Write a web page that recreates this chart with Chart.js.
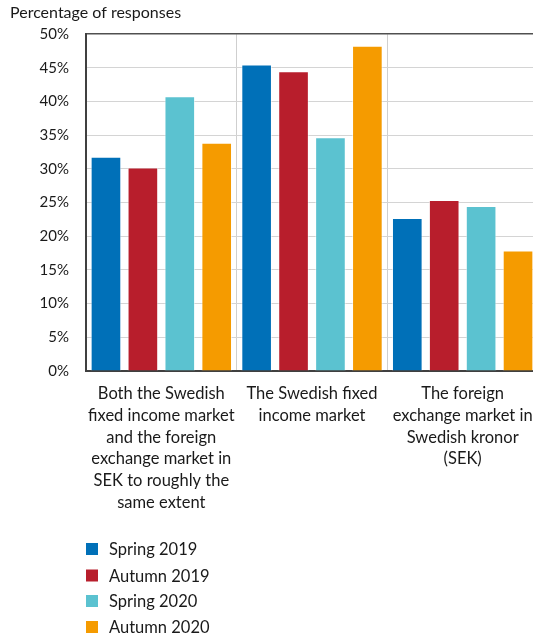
<!DOCTYPE html>
<html>
<head>
<meta charset="utf-8">
<script src="https://cdn.jsdelivr.net/npm/chart.js@4/dist/chart.umd.min.js"></script>
<style>
html,body{margin:0;padding:0;background:#fff;overflow:hidden;}
#wrap{position:relative;width:570px;height:638px;}
</style>
</head>
<body>
<div id="wrap"><canvas id="c"></canvas></div>
<script>
const categories = [
  ["Both the Swedish","fixed income market","and the foreign","exchange market in","SEK to roughly the","same extent"],
  ["The Swedish fixed","income market"],
  ["The foreign","exchange market in","Swedish kronor","(SEK)"]
];
const seriesNames = ["Spring 2019","Autumn 2019","Spring 2020","Autumn 2020"];
const spring2019 = [31.8, 45.5, 22.7];
const autumn2019 = [30.2, 44.5, 25.4];
const spring2020 = [40.8, 34.7, 24.5];
const autumn2020 = [33.9, 48.3, 17.9];
const colors = ["#0070B8","#B81E2C","#5BC2D0","#F59B00"];
const yTicks = [0,5,10,15,20,25,30,35,40,45,50];

const FONT = "Lato, 'Open Sans', sans-serif";
const TXT = "#1a1a1a";

const seriesValues = [spring2019, autumn2019, spring2020, autumn2020];

const legendPlugin = {
  id: 'vlegend',
  afterDraw(chart) {
    const ctx = chart.ctx;
    const x0 = chart.chartArea.left;
    const rows = [549, 575.5, 601, 627];
    ctx.save();
    ctx.font = "16.5px " + FONT;
    ctx.textBaseline = 'middle';
    ctx.textAlign = 'left';
    chart.data.datasets.forEach((ds, i) => {
      ctx.fillStyle = ds.backgroundColor;
      ctx.fillRect(x0, rows[i] - 6, 12, 12);
      ctx.fillStyle = TXT;
      ctx.fillText(ds.label, x0 + 23, rows[i] + 1);
    });
    ctx.restore();
  }
};

new Chart(document.getElementById('c'), {
  type: 'bar',
  data: {
    labels: categories,
    datasets: seriesNames.map((n, i) => ({
      label: n,
      data: seriesValues[i],
      backgroundColor: colors[i],
      borderColor: 'rgba(255,255,255,0.55)',
      borderWidth: 1,
      categoryPercentage: 0.98,
      barPercentage: 0.83
    }))
  },
  options: {
    responsive: true,
    maintainAspectRatio: false,
    animation: false,
    layout: { padding: { left: 10, right: 32, top: 0, bottom: 122 } },
    plugins: {
      legend: { display: false },
      tooltip: { enabled: false },
      title: {
        display: true,
        text: "Percentage of responses",
        align: 'start',
        color: TXT,
        font: { family: FONT, size: 16, weight: 'normal' },
        padding: { top: 3, bottom: 12 }
      }
    },
    scales: {
      x: {
        grid: { display: true, offset: true, drawTicks: false, color: '#cfcfcf', lineWidth: 1 },
        border: { display: true, color: '#404040', width: 2 },
        ticks: {
          color: TXT, font: { family: FONT, size: 16.5, lineHeight: 1.315 },
          maxRotation: 0, minRotation: 0, autoSkip: false, padding: 12
        },
        afterFit(s) { s.height = 145; }
      },
      y: {
        min: 0, max: 50,
        afterBuildTicks(s) { s.ticks = yTicks.map(v => ({ value: v })); },
        grid: {
          drawTicks: false,
          color: c => (c.tick && c.tick.value === 50) ? '#505050' : '#d4d4d4',
          lineWidth: c => (c.tick && c.tick.value === 50) ? 1.5 : 1
        },
        border: { display: true, color: '#404040', width: 2 },
        ticks: {
          color: TXT, font: { family: FONT, size: 15 },
          padding: 17,
          callback: v => v + '%'
        },
        afterFit(s) { s.width = 76; }
      }
    }
  },
  plugins: [legendPlugin]
});
</script>
</body>
</html>
